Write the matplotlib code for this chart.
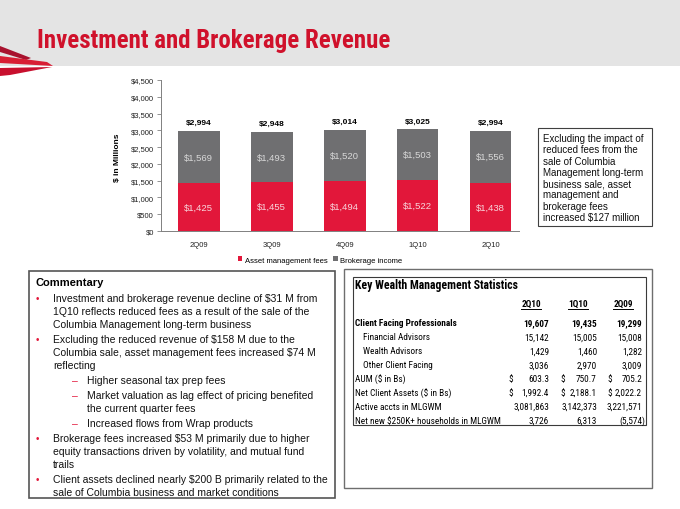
import matplotlib
matplotlib.use('Agg')
import matplotlib.pyplot as plt
from matplotlib import font_manager
from matplotlib.patches import Rectangle, Polygon
from matplotlib.lines import Line2D
from matplotlib.ticker import FuncFormatter

plt.rcParams['font.family'] = ['Liberation Sans', 'DejaVu Sans']
plt.rcParams['text.parse_math'] = False

# chart data ($ millions)
quarters = ['2Q09', '3Q09', '4Q09', '1Q10', '2Q10']
asset_mgmt = [1425, 1455, 1494, 1522, 1438]
brokerage = [1569, 1493, 1520, 1503, 1556]
totals = [a + b for a, b in zip(asset_mgmt, brokerage)]

note_lines = ['Excluding the impact of', 'reduced fees from the', 'sale of Columbia',
              'Management long-term', 'business sale, asset', 'management and',
              'brokerage fees', 'increased $127 million']

commentary = [
    ('bullet', ['Investment and brokerage revenue decline of $31 M from',
                '1Q10 reflects reduced fees as a result of the sale of the',
                'Columbia Management long-term business']),
    ('bullet', ['Excluding the reduced revenue of $158 M due to the',
                'Columbia sale, asset management fees increased $74 M',
                'reflecting']),
    ('dash', ['Higher seasonal tax prep fees']),
    ('dash', ['Market valuation as lag effect of pricing benefited',
              'the current quarter fees']),
    ('dash', ['Increased flows from Wrap products']),
    ('bullet', ['Brokerage fees increased $53 M primarily due to higher',
                'equity transactions driven by volatility, and mutual fund',
                'trails']),
    ('bullet', ['Client assets declined nearly $200 B primarily related to the',
                'sale of Columbia business and market conditions']),
]

# key wealth management statistics
stat_cols = ['2Q10', '1Q10', '2Q09']
stat_labels = ['Client Facing Professionals', 'Financial Advisors', 'Wealth Advisors',
               'Other Client Facing', 'AUM ($ in Bs)', 'Net Client Assets ($ in Bs)',
               'Active accts in MLGWM', 'Net new $250K+ households in MLGWM']
stat_indent = [False, True, True, True, False, False, False, False]
stat_bold = [True, False, False, False, False, False, False, False]
stat_dollar = [False, False, False, False, True, True, False, False]
stat_values = [
    ['19,607', '19,435', '19,299'],
    ['15,142', '15,005', '15,008'],
    ['1,429', '1,460', '1,282'],
    ['3,036', '2,970', '3,009'],
    ['603.3', '750.7', '705.2'],
    ['1,992.4', '2,188.1', '2,022.2'],
    ['3,081,863', '3,142,373', '3,221,571'],
    ['3,726', '6,313', '(5,574)'],
]

RED = '#e2173a'
GRAY = '#6f6f71'
TITLE_RED = '#d0112b'

# narrow font if one is installed, otherwise plain Liberation Sans scaled to fit
installed = {f.name for f in font_manager.fontManager.ttflist}
narrow = next((n for n in ['Liberation Sans Narrow', 'Roboto Condensed', 'Arial Narrow']
               if n in installed), 'Liberation Sans')

W, H = 680, 510
fig = plt.figure(figsize=(W / 100, H / 100), dpi=100)
fig.patch.set_facecolor('white')
renderer = fig.canvas.get_renderer()


def fx(x):
    return x / W


def fy(y):
    return 1 - y / H


def box(x0, y0, x1, y1, **kw):
    fig.patches.append(Rectangle((fx(x0), fy(y1)), fx(x1) - fx(x0), fy(y0) - fy(y1),
                                 transform=fig.transFigure, **kw))


def fit_size(text, width_px, **kw):
    t = fig.text(0, 0, text, fontsize=10, **kw)
    w = t.get_window_extent(renderer).width
    t.remove()
    return 10 * width_px / w


# header band, logo and title
box(0, 0, 680, 67, facecolor='#e4e4e4', edgecolor='none', zorder=0)
logo = [([(0, 47), (0, 53), (26, 61), (31, 59)], '#a8122e'),
        ([(0, 57), (0, 64), (53, 67), (47, 63)], '#d81e34'),
        ([(0, 69), (0, 77), (10, 76), (52, 68)], '#c8102e')]
for pts, c in logo:
    fig.patches.append(Polygon([(fx(a), fy(b)) for a, b in pts], closed=True,
                               transform=fig.transFigure, facecolor=c, edgecolor='none'))
title = 'Investment and Brokerage Revenue'
fig.text(fx(37), fy(41), title, color=TITLE_RED,
         fontsize=fit_size(title, 353, fontweight='bold', family=narrow),
         fontweight='bold', family=narrow, ha='left', va='center')

# stacked bar chart
ax = fig.add_axes([fx(161), fy(232), fx(519) - fx(161), fy(81) - fy(232)])
xs = list(range(len(quarters)))
b1 = ax.bar(xs, asset_mgmt, width=0.57, color=RED, label='Asset management fees')
b2 = ax.bar(xs, brokerage, bottom=asset_mgmt, width=0.57, color=GRAY, label='Brokerage income')
ax.set_xlim(-0.52, 4.39)
ax.set_ylim(0, 4500)
ax.set_yticks(range(0, 4501, 500))
ax.yaxis.set_major_formatter(FuncFormatter(lambda v, p: f'${v:,.0f}'))
ax.set_xticks(xs)
ax.set_xticklabels(quarters)
ax.tick_params(axis='x', length=0, pad=7, labelsize=5.5, labelcolor='#222222')
ax.tick_params(axis='y', length=3, width=0.6, pad=2, labelsize=5.5, color='#808080',
               labelcolor='#222222')
for s in ['top', 'right']:
    ax.spines[s].set_visible(False)
for s in ['left', 'bottom']:
    ax.spines[s].set_color('#808080')
    ax.spines[s].set_linewidth(0.7)
ax.set_ylabel('$ in Millions', fontsize=6, fontweight='bold')
ax.yaxis.set_label_coords(-0.112, 0.49)

for i in xs:
    a, b, t = asset_mgmt[i], brokerage[i], totals[i]
    ax.text(i, a / 2, f'${a:,}', ha='center', va='center', fontsize=6.8, color='#f8d6dc')
    ax.text(i, a + b / 2, f'${b:,}', ha='center', va='center', fontsize=6.8, color='#d8d8d8')
    ax.annotate(f'${t:,}', (i, t), xytext=(0, 3.5), textcoords='offset points',
                ha='center', va='bottom', fontsize=6, fontweight='bold')

fig.legend(handles=[b1, b2], loc='center', bbox_to_anchor=(fx(320), fy(261)), ncol=2,
           frameon=False, fontsize=5.5, handlelength=0.6, handleheight=0.6,
           handletextpad=0.3, columnspacing=0.8)

# note box on the right
box(538, 129, 652, 227, facecolor='none', edgecolor='#404040', lw=0.8)
for k, ln in enumerate(note_lines):
    fig.text(fx(543), fy(139 + 11.3 * k), ln, fontsize=7, color='#111111', va='center')

# commentary box
box(29, 272, 335, 499, facecolor='none', edgecolor='#555555', lw=1.2)
fig.text(fx(36), fy(283), 'Commentary', fontsize=8, fontweight='bold', va='center')
y = 299
for kind, lines in commentary:
    if kind == 'bullet':
        fig.text(fx(36), fy(y), '\u2022', color=RED, fontsize=7, va='center')
        tx = 53
    else:
        fig.text(fx(72), fy(y), '\u2013', color=RED, fontsize=7.5, va='center')
        tx = 87
    for ln in lines:
        fig.text(fx(tx), fy(y), ln, fontsize=7.5, color='#111111', va='center')
        y += 13
    y += 2

# statistics table
box(344, 270, 652, 489, facecolor='none', edgecolor='#6e6e6e', lw=1.0)
box(353, 278, 646, 426, facecolor='none', edgecolor='#3a3a3a', lw=0.8)
head = 'Key Wealth Management Statistics'
fig.text(fx(355), fy(286), head, fontsize=fit_size(head, 163, fontweight='bold', family=narrow),
         fontweight='bold', family=narrow, va='center')
fs = fit_size(stat_labels[-1], 146, family=narrow)
col_center = [531, 578, 623]
col_right = [549, 597, 642]
col_dollar = [508, 560, 607]
for c, name in enumerate(stat_cols):
    t = fig.text(fx(col_center[c]), fy(304), name, fontsize=fs, fontweight='bold',
                 family=narrow, ha='center', va='center')
    bb = t.get_window_extent(renderer)
    fig.lines.append(Line2D([bb.x0 / W, bb.x1 / W], [fy(310), fy(310)], color='black',
                            lw=0.7, transform=fig.transFigure))
for r, label in enumerate(stat_labels):
    ry = 324 + 13.9 * r
    wt = 'bold' if stat_bold[r] else 'normal'
    fig.text(fx(363 if stat_indent[r] else 355), fy(ry), label, fontsize=fs, fontweight=wt,
             family=narrow, va='center')
    for c, val in enumerate(stat_values[r]):
        xr = col_right[c] + (3 if val.endswith(')') else 0)
        fig.text(fx(xr), fy(ry), val, fontsize=fs, fontweight=wt, family=narrow,
                 ha='right', va='center')
        if stat_dollar[r]:
            fig.text(fx(col_dollar[c]), fy(ry), '$', fontsize=fs, family=narrow, va='center')

fig.savefig('out.png', dpi=100)
